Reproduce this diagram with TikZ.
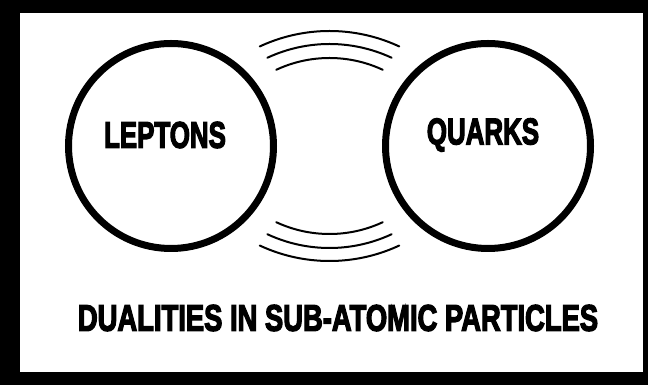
\documentclass[tikz,border=0pt]{standalone}
\usepackage{fontspec}
\usepackage{graphicx}
\usepackage{tikz}
\usetikzlibrary{calc}
\newfontfamily\heavyfont[UprightFont={* Bold}, FakeBold=4]{Liberation Sans}
\tikzset{
  frameband/.style={fill=black},
  ring/.style={circle, draw=black, line width=7pt, minimum size=205pt, inner sep=0pt},
  lbl/.style={font=\heavyfont\fontsize{37}{37}\selectfont, inner sep=0pt},
  ttl/.style={lbl},
  wave/.style={line width=2pt, black, line cap=round}
}
\begin{document}
\begin{tikzpicture}[x=1pt, y=1pt]
\useasboundingbox (0,0) rectangle (648,385);
% frame
\fill[frameband] (0,0) rectangle (648,385);
\fill[white] (20,13) rectangle (643,372);
% the two circles
\node[ring] (leptons) at (171,239) {};
\node[ring] (quarks) at (488,239) {};
\node[lbl] (leptonstxt) at ($(leptons)+(-6,11)$) {\scalebox{0.7}[1]{LEPTONS}};
\node[lbl] (quarkstxt) at ($(quarks)+(-5,11)$) {\scalebox{0.7}[1]{QUARKS}};
\coordinate (mid) at ($(leptons)!0.5!(quarks)$);
% waves above and below
\foreach \r/\d in {165/50, 147/45, 126/38} {
  \draw[wave] ([shift={(115:\r)}]$(mid)+(0,-\d)$) arc[start angle=115, end angle=65, radius=\r];
  \draw[wave] ([shift={(245:\r)}]$(mid)+(0,\d)$) arc[start angle=245, end angle=295, radius=\r];
}
\node[ttl] (title) at (338,67) {\scalebox{0.74}[1]{DUALITIES IN SUB-ATOMIC PARTICLES}};
\end{tikzpicture}
\end{document}
